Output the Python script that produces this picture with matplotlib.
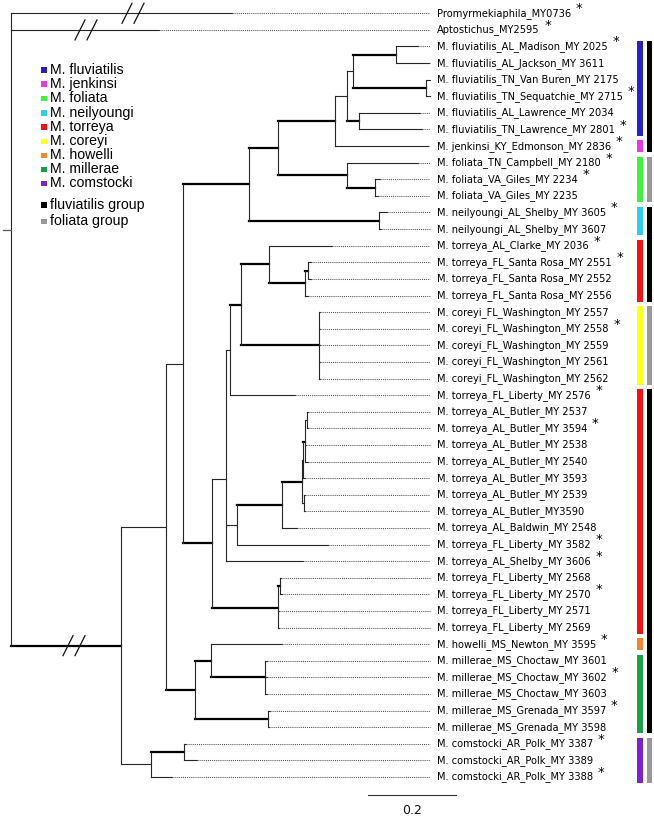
import matplotlib
matplotlib.use('Agg')
import matplotlib.pyplot as plt
from matplotlib.patches import Rectangle
import numpy as np

# ---------------- data ----------------
tip_labels = [
    "Promyrmekiaphila_MY0736", "Aptostichus_MY2595",
    "M. fluviatilis_AL_Madison_MY 2025", "M. fluviatilis_AL_Jackson_MY 3611",
    "M. fluviatilis_TN_Van Buren_MY 2175", "M. fluviatilis_TN_Sequatchie_MY 2715",
    "M. fluviatilis_AL_Lawrence_MY 2034", "M. fluviatilis_TN_Lawrence_MY 2801",
    "M. jenkinsi_KY_Edmonson_MY 2836", "M. foliata_TN_Campbell_MY 2180",
    "M. foliata_VA_Giles_MY 2234", "M. foliata_VA_Giles_MY 2235",
    "M. neilyoungi_AL_Shelby_MY 3605", "M. neilyoungi_AL_Shelby_MY 3607",
    "M. torreya_AL_Clarke_MY 2036", "M. torreya_FL_Santa Rosa_MY 2551",
    "M. torreya_FL_Santa Rosa_MY 2552", "M. torreya_FL_Santa Rosa_MY 2556",
    "M. coreyi_FL_Washington_MY 2557", "M. coreyi_FL_Washington_MY 2558",
    "M. coreyi_FL_Washington_MY 2559", "M. coreyi_FL_Washington_MY 2561",
    "M. coreyi_FL_Washington_MY 2562", "M. torreya_FL_Liberty_MY 2576",
    "M. torreya_AL_Butler_MY 2537", "M. torreya_AL_Butler_MY 3594",
    "M. torreya_AL_Butler_MY 2538", "M. torreya_AL_Butler_MY 2540",
    "M. torreya_AL_Butler_MY 3593", "M. torreya_AL_Butler_MY 2539",
    "M. torreya_AL_Butler_MY3590", "M. torreya_AL_Baldwin_MY 2548",
    "M. torreya_FL_Liberty_MY 3582", "M. torreya_AL_Shelby_MY 3606",
    "M. torreya_FL_Liberty_MY 2568", "M. torreya_FL_Liberty_MY 2570",
    "M. torreya_FL_Liberty_MY 2571", "M. torreya_FL_Liberty_MY 2569",
    "M. howelli_MS_Newton_MY 3595", "M. millerae_MS_Choctaw_MY 3601",
    "M. millerae_MS_Choctaw_MY 3602", "M. millerae_MS_Choctaw_MY 3603",
    "M. millerae_MS_Grenada_MY 3597", "M. millerae_MS_Grenada_MY 3598",
    "M. comstocki_AR_Polk_MY 3387", "M. comstocki_AR_Polk_MY 3389",
    "M. comstocki_AR_Polk_MY 3388",
]
tip_star = [1, 1, 1, 0, 0, 1, 0, 1, 1, 1, 1, 0, 1, 0, 1, 1, 0, 0, 0, 1, 0, 0, 0, 1,
            0, 1, 0, 0, 0, 0, 0, 0, 1, 1, 0, 1, 0, 0, 1, 0, 1, 0, 1, 0, 1, 0, 1]
tip_parent = ["R0", "R0", "H", "H", "I", "I", "J", "J", "E", "K", "L", "L", "M", "M",
              "S", "U", "U", "T", "V", "V", "V", "V", "V", "P",
              "Y3", "Y3", "Y2", "Y2", "Y1", "Z", "Z", "W", "Q", "O",
              "AB", "AB", "AA", "AA", "HH", "CH", "CH", "CH", "GR", "GR",
              "CD", "CD", "CC"]
tip_length = [0.502, 0.336, 0.048, 0.073, 0.009, 0.009, 0.139, 0.143, 0.211, 0.161,
              0.011, 0.007, 0.018, 0.005, 0.143, 0.005, 0.005, 0.005,
              0.003, 0.003, 0.003, 0.003, 0.003, 0.148,
              0.002, 0.001, 0.002, 0.007, 0.005, 0.002, 0.002, 0.034, 0.207, 0.175,
              0.002, 0.005, 0.002, 0.002, 0.161, 0.005, 0.005, 0.005, 0.005, 0.002,
              0.005, 0.030, 0.048]

node_names = ["R0", "M0", "B", "CC", "A", "HM", "C", "N", "D", "M", "E", "K", "F", "G",
              "J", "H", "I", "L", "O", "AA", "P", "Q", "R", "S", "V", "T", "U", "W", "X",
              "Y1", "Z", "Y2", "Y3", "AB", "HH", "GR", "CH", "CD"]
node_parent = [None, "R0", "M0", "M0", "B", "B", "A", "A", "C", "C", "D", "D", "E", "F",
               "F", "G", "G", "K", "N", "N", "O", "O", "P", "R", "R", "S", "T", "Q", "W",
               "X", "X", "Y1", "Y2", "AA", "HM", "HM", "HH", "CC"]
node_length = [0.0, 0.250, 0.102, 0.068, 0.039, 0.066, 0.150, 0.066, 0.066, 0.295,
               0.130, 0.157, 0.027, 0.014, 0.027, 0.098, 0.166, 0.064, 0.032, 0.150,
               0.009, 0.025, 0.025, 0.064, 0.177, 0.082, 0.007, 0.102, 0.045,
               0.002, 0.005, 0.005, 0.005, 0.005, 0.036, 0.166, 0.123, 0.075]
node_thick = [0, 1, 0, 0, 0, 1, 1, 1, 1, 1, 1, 1, 0, 0, 1, 1, 1, 1, 0, 1, 0, 0, 1, 1, 1,
              1, 1, 1, 1, 0, 0, 1, 0, 1, 1, 1, 1, 1]

species_names = ["M. fluviatilis", "M. jenkinsi", "M. foliata", "M. neilyoungi",
                 "M. torreya", "M. coreyi", "M. howelli", "M. millerae", "M. comstocki"]
species_colors = ["#2a22c0", "#e03ce0", "#44ee44", "#33ccee", "#ee1414", "#ffff22",
                  "#ee8833", "#1f9e4a", "#7a22cc"]
group_names = ["fluviatilis group", "foliata group"]
group_colors = ["#000000", "#999999"]

# coloured bars: (first tip, last tip, species index)
species_bar_first = [2, 8, 9, 12, 14, 18, 23, 38, 39, 44]
species_bar_last = [7, 8, 11, 13, 17, 22, 37, 38, 43, 46]
species_bar_kind = [0, 1, 2, 3, 4, 5, 4, 6, 7, 8]
group_bar_first = [2, 9, 12, 18, 23, 44]
group_bar_last = [8, 11, 17, 22, 43, 46]
group_bar_kind = [0, 1, 0, 1, 0, 1]

scale_length = 0.2
scale_label = "0.2"

# ---------------- layout ----------------
W, H = 654, 818
PX_X0, PX_PER_UNIT = 11.0, 440.0
PX_Y0, PX_DY = 13.3, 16.6

fig = plt.figure(figsize=(W / 100, H / 100), dpi=100)
ax = fig.add_axes([0, 0, 1, 1])
ax.set_xlim(-PX_X0 / PX_PER_UNIT, (W - PX_X0) / PX_PER_UNIT)
ax.set_ylim((H - PX_Y0) / PX_DY, -PX_Y0 / PX_DY)
ax.axis('off')

def dx(px):
    return px / PX_PER_UNIT

def dy(px):
    return px / PX_DY

# depths
depth = {}
for name, par, ln in zip(node_names, node_parent, node_length):
    depth[name] = 0.0 if par is None else depth[par] + ln
children = {n: [] for n in node_names}
for name, par in zip(node_names, node_parent):
    if par is not None:
        children[par].append(('n', name))
for i, par in enumerate(tip_parent):
    children[par].append(('t', i))

ypos = {}
def get_y(kind, key):
    if kind == 't':
        return float(key)
    if key in ypos:
        return ypos[key]
    ys = [get_y(k, c) for k, c in children[key]]
    ypos[key] = float(np.mean(ys))
    return ypos[key]
for n in node_names:
    get_y('n', n)

THIN = dict(color='#262626', lw=0.8, solid_capstyle='projecting')
THICK = dict(color='#000000', lw=1.6, solid_capstyle='projecting')
align_x = dx(430 - PX_X0)
label_x = dx(437 - PX_X0)

# internal branches
for name, par, thick in zip(node_names, node_parent, node_thick):
    if par is None:
        continue
    ax.plot([depth[par], depth[name]], [ypos[name]] * 2, **(THICK if thick else THIN))
# vertical connectors
for n in node_names:
    ys = [get_y(k, c) for k, c in children[n]]
    ax.plot([depth[n]] * 2, [min(ys), max(ys)], color='#262626', lw=0.8)
# root stem
ax.plot([dx(-8), 0], [ypos["R0"]] * 2, color='#555555', lw=0.9)

# tips
for i, (par, ln) in enumerate(zip(tip_parent, tip_length)):
    x0 = depth[par]
    x1 = x0 + ln
    ax.plot([x0, x1], [i, i], **THIN)
    ax.plot([x1, align_x], [i, i], color='#555555', lw=0.75, linestyle=(0, (1, 1)))

labels = []
for i, lab in enumerate(tip_labels):
    t = ax.text(label_x, i, lab, fontsize=7.1, family='DejaVu Sans', va='center',
                ha='left', color='#000000')
    labels.append(t)

fig.canvas.draw()
for i, t in enumerate(labels):
    if tip_star[i]:
        bb = t.get_window_extent()
        ax.annotate('*', xy=(label_x, i), xytext=(bb.width + 8, 4.5),
                    textcoords='offset pixels', fontsize=9.5, ha='center', va='center',
                    family='DejaVu Sans', color='#000000')

# break marks "//"
def break_mark(xc, yc):
    for off in (-6, 6):
        ax.plot([xc + dx(off - 5), xc + dx(off + 5)], [yc + dy(10), yc - dy(10)],
                color='#111111', lw=0.9)
break_mark(dx(133 - PX_X0), 0)
break_mark(dx(86 - PX_X0), 1)
break_mark(dx(74 - PX_X0), ypos["M0"])

# coloured bars
bar_pad = dy(6)
for f, l, k in zip(species_bar_first, species_bar_last, species_bar_kind):
    ax.bar(dx(640 - PX_X0), (l - f) + 2 * bar_pad, bottom=f - bar_pad,
           width=dx(5.5), color=species_colors[k], align='center', linewidth=0)
for f, l, k in zip(group_bar_first, group_bar_last, group_bar_kind):
    ax.bar(dx(649.5 - PX_X0), (l - f) + 2 * bar_pad, bottom=f - bar_pad,
           width=dx(5.0), color=group_colors[k], align='center', linewidth=0)

# scale bar
sx0 = dx(368 - PX_X0)
sy = dy(795 - PX_Y0)
ax.plot([sx0, sx0 + scale_length], [sy, sy], color='#333333', lw=0.8)
ax.text(sx0 + scale_length / 2, dy(811 - PX_Y0), scale_label, fontsize=9,
        ha='center', va='center', family='DejaVu Sans', color='#111111')

# legend (pixel positions -> figure fraction)
leg_rows = [70, 84, 98, 113, 127, 141, 155, 169, 183]
grp_rows = [205, 221]
def leg_item(py, color, text):
    fig.patches.append(Rectangle((41 / W, 1 - (py + 2.5) / H), 6 / W, 5 / H,
                                 transform=fig.transFigure, facecolor=color,
                                 edgecolor='none'))
    fig.text(50.5 / W, 1 - py / H, text, fontsize=10.2, family='Liberation Sans',
             va='center', ha='left', color='#000000')
for py, c, n in zip(leg_rows, species_colors, species_names):
    leg_item(py, c, n)
for py, c, n in zip(grp_rows, group_colors, group_names):
    leg_item(py, c, n)

fig.savefig('out.png', dpi=100)
